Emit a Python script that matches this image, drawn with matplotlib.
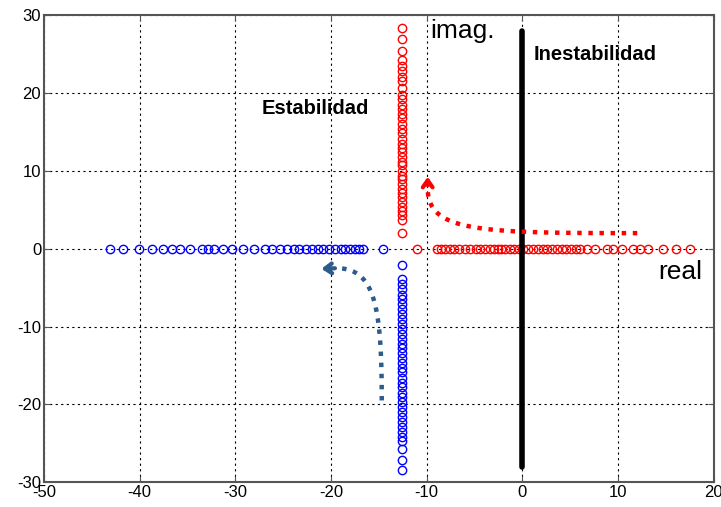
import numpy as np
import matplotlib
matplotlib.use("Agg")
import matplotlib.pyplot as plt

plt.rcParams["font.family"] = ["Liberation Sans", "DejaVu Sans"]
plt.rcParams["axes.unicode_minus"] = False

# root locus style data
red_col_x = -12.6
red_col_y = [28.4, 27.0, 25.4, 24.2, 23.5, 22.8, 22.1, 21.5, 20.6, 19.8, 19.2, 18.5,
             17.9, 17.3, 16.8, 16.0, 15.4, 14.9, 14.1, 13.5, 13.0, 12.4, 11.8, 11.2,
             10.7, 10.0, 9.4, 8.9, 8.3, 7.7, 7.1, 6.6, 6.0, 5.4, 4.9, 4.3, 3.7, 2.0]
blue_col_x = -12.6
blue_col_y = [-2.1, -3.9, -4.5, -5.2, -5.9, -6.5, -7.1, -7.8, -8.4, -9.0, -9.7, -10.3,
              -10.9, -11.6, -12.2, -12.8, -13.4, -14.1, -14.7, -15.3, -15.9, -16.6,
              -17.2, -17.8, -18.5, -19.1, -19.7, -20.4, -21.0, -21.6, -22.3, -22.9,
              -23.5, -24.2, -24.7, -25.7, -27.1, -28.5]
red_row_x = [-11.0, -8.9, -8.5, -8.1, -7.6, -7.2, -6.6, -6.0, -5.5, -4.8, -4.4, -3.9,
             -3.4, -3.0, -2.6, -2.2, -1.8, -1.3, -0.9, -0.4, 0.1, 0.6, 1.1, 1.6, 2.1,
             2.6, 3.1, 3.6, 4.1, 4.6, 5.1, 5.6, 6.0, 6.7, 7.6, 8.8, 9.5, 10.4, 11.6,
             12.3, 13.1, 14.7, 16.1, 17.5]
blue_row_x = [-43.1, -41.7, -40.1, -38.7, -37.6, -36.6, -35.8, -34.7, -33.5, -32.9,
              -32.2, -31.3, -30.4, -29.2, -28.0, -26.9, -26.2, -25.3, -24.6, -23.9,
              -23.3, -22.6, -22.0, -21.4, -20.8, -20.2, -19.6, -19.0, -18.5, -18.0,
              -17.5, -17.1, -16.7, -14.6]

xticks = [-50, -40, -30, -20, -10, 0, 10, 20]
yticks = [-30, -20, -10, 0, 10, 20, 30]


def bezier(p0, p1, p2, p3, n=80):
    t = np.linspace(0, 1, n)[:, None]
    p0, p1, p2, p3 = map(np.array, (p0, p1, p2, p3))
    pts = ((1 - t) ** 3 * p0 + 3 * (1 - t) ** 2 * t * p1
           + 3 * (1 - t) * t ** 2 * p2 + t ** 3 * p3)
    return pts[:, 0], pts[:, 1]


fig = plt.figure(figsize=(7.21, 5.07), dpi=100)
ax = fig.add_axes([0.061, 0.049, 0.929, 0.921])

mk = dict(ls="none", marker="o", mfc="none", ms=6, mew=1.0)
ax.plot([red_col_x] * len(red_col_y), red_col_y, color="red", **mk)
ax.plot(red_row_x, [0] * len(red_row_x), color="red", **mk)
ax.plot([blue_col_x] * len(blue_col_y), blue_col_y, color="blue", **mk)
ax.plot(blue_row_x, [0] * len(blue_row_x), color="blue", **mk)

# stability boundary
ax.plot([0, 0], [-28, 28], color="black", lw=4, solid_capstyle="round", zorder=4)

# red arrow (towards instability -> up)
rx, ry = bezier((12, 2.0), (-5, 2.0), (-10, 2.2), (-9.9, 8.0))
ax.plot(rx, ry, color="red", ls=(0, (1, 1.5)), lw=3.2, zorder=5)
ax.annotate("", xy=(-9.9, 9.6), xytext=(-9.9, 7.8),
            arrowprops=dict(arrowstyle="->,head_length=0.5,head_width=0.35",
                            color="red", lw=3), zorder=5)

# blue arrow (towards stability -> left)
bx, by = bezier((-14.7, -19.5), (-14.7, -7), (-15.5, -2.5), (-19.5, -2.5))
ax.plot(bx, by, color="#2e5c8a", ls=(0, (1, 1.5)), lw=3.2, zorder=5)
ax.annotate("", xy=(-21.3, -2.6), xytext=(-19.3, -2.5),
            arrowprops=dict(arrowstyle="->,head_length=0.5,head_width=0.35",
                            color="#2e5c8a", lw=3), zorder=5)

ax.text(-9.6, 28.0, "imag.", fontsize=19, va="center", ha="left")
ax.text(1.2, 25.0, "Inestabilidad", fontsize=14.5, fontweight="bold", va="center")
ax.text(-27.3, 18.0, "Estabilidad", fontsize=14.5, fontweight="bold", va="center")
ax.text(14.2, -3.0, "real", fontsize=19, va="center")

ax.set_xlim(-50, 20)
ax.set_ylim(-30, 30)
ax.set_xticks(xticks)
ax.set_yticks(yticks)
ax.tick_params(labelsize=12, direction="in", length=4, pad=2,
               top=True, right=True, color="#555555")
ax.grid(True, color="black", ls=(0, (2, 3)), lw=0.8)
for s in ax.spines.values():
    s.set_color("#555555")
    s.set_linewidth(1.5)

plt.savefig("out.png", dpi=100)
